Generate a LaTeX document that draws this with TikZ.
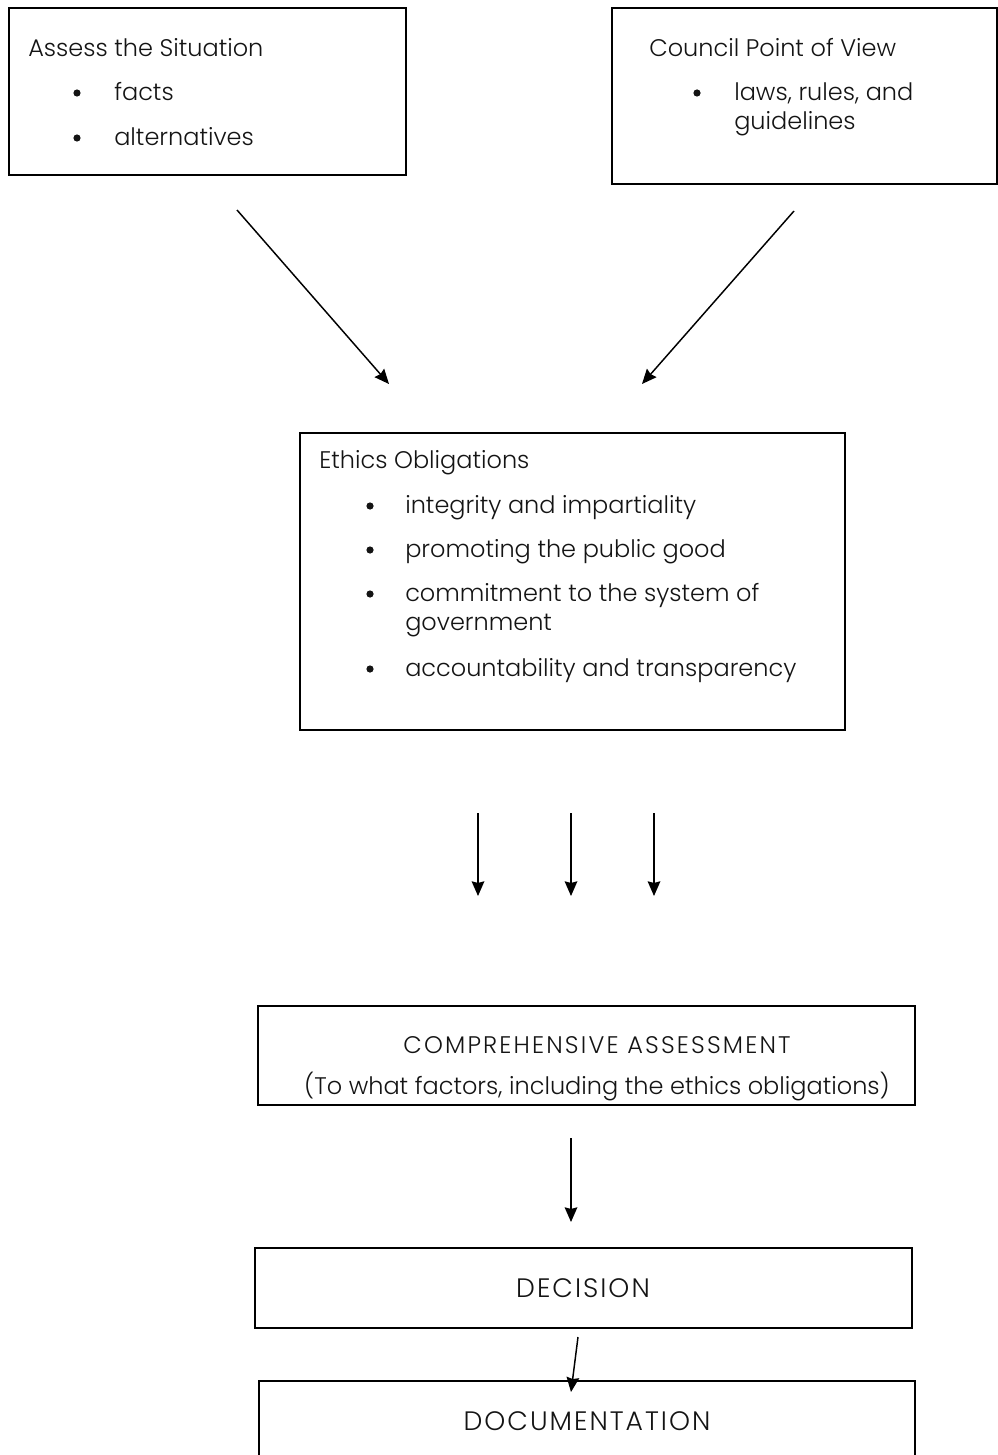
\documentclass[tikz,border=0pt]{standalone}
\usepackage{fontspec}
\setmainfont{Poppins}[UprightFont={* Light}]
\usepackage{tikz}
\usetikzlibrary{arrows.meta,positioning,fit}
\definecolor{ink}   {HTML}{000000}
\definecolor{txtink}{HTML}{141414}
\newcommand{\boxfont}{\fontsize{18}{21}\selectfont}
\newcommand{\capfont}{\fontsize{18}{21}\selectfont\addfontfeatures{LetterSpace=9}}
\newcommand{\bigcapfont}{\fontsize{20}{24}\selectfont\addfontfeatures{LetterSpace=7.5}}
\tikzset{
  framebox/.style  ={draw=ink, line width=1.1pt, inner sep=0pt},
  leftlabel/.style ={anchor=mid west, inner sep=0pt, text=txtink, font=\boxfont},
  midlabel/.style  ={anchor=mid, inner sep=0pt, text=txtink, font=\boxfont},
  dotmark/.style   ={circle, fill=txtink, inner sep=0pt, minimum size=5.4pt},
  flowarr/.style   ={-{Stealth[length=11pt,width=9.5pt,inset=1.2pt]}, line width=1.1pt, draw=ink},
}

\begin{document}
\begin{tikzpicture}[x=0.75pt,y=-0.75pt]
    \clip (0,0) rectangle (998,1455);

    % top left box
    \node[framebox, fit={(9,8) (406,175)}] (assess) {};
    \node[leftlabel] (assesst) at (28,53) {Assess the Situation};
    \node[dotmark] (assessd1) at (77,93) {};
    \node[leftlabel] (assessi1) at (114,97) {facts};
    \node[dotmark] (assessd2) at (77,138) {};
    \node[leftlabel] (assessi2) at (114,142) {alternatives};

    % top right box
    \node[framebox, fit={(612,8) (997,184)}] (council) {};
    \node[leftlabel] (councilt) at (649,53) {Council Point of View};
    \node[dotmark] (councild1) at (697,93) {};
    \node[leftlabel] (councili1) at (734,97) {laws, rules, and};
    \node[leftlabel] (councili2) at (734,126) {guidelines};

    % ethics box
    \node[framebox, fit={(300,433) (845,730)}] (ethics) {};
    \node[leftlabel] (ethicst) at (319,465) {Ethics Obligations};
    \node[dotmark] (ethicsd1) at (370,506) {};
    \node[leftlabel] (ethicsi1) at (405,510) {integrity and impartiality};
    \node[dotmark] (ethicsd2) at (370,550) {};
    \node[leftlabel] (ethicsi2) at (405,554) {promoting the public good};
    \node[dotmark] (ethicsd3) at (370,594) {};
    \node[leftlabel] (ethicsi3) at (405,598) {commitment to the system of};
    \node[leftlabel] (ethicsi3b) at (405,627) {government};
    \node[dotmark] (ethicsd4) at (370,669) {};
    \node[leftlabel] (ethicsi4) at (405,673) {accountability and transparency};

    % lower boxes
    \node[framebox, fit={(258,1006) (915,1105)}] (compre) {};
    \node[midlabel, font=\capfont] (compret) at (597,1050) {COMPREHENSIVE ASSESSMENT};
    \node[midlabel] (comprei) at (597,1091) {(To what factors, including the ethics obligations)};

    \node[framebox, fit={(255,1248) (912,1328)}] (decision) {};
    \node[midlabel, font=\bigcapfont] (decisiont) at (583,1294) {DECISION};

    \node[framebox, fit={(259,1381) (915,1480)}] (docu) {};
    \node[midlabel, font=\bigcapfont] (docut) at (587,1427) {DOCUMENTATION};

    % arrow ends
    \coordinate (l1) at (237,210);  \coordinate (l2) at (389,384);
    \coordinate (r1) at (794,211);  \coordinate (r2) at (642,384);
    \coordinate (v1) at (478,813);  \coordinate (v1e) at (478,896);
    \coordinate (v2) at (571,813);  \coordinate (v2e) at (571,896);
    \coordinate (v3) at (654,813);  \coordinate (v3e) at (654,896);
    \coordinate (c1) at (571,1138); \coordinate (c1e) at (571,1222);
    \coordinate (d1) at (578,1337); \coordinate (d1e) at (571,1392);

    \draw[flowarr] (l1) -- (l2);
    \draw[flowarr] (r1) -- (r2);
    \draw[flowarr] (v1) -- (v1e);
    \draw[flowarr] (v2) -- (v2e);
    \draw[flowarr] (v3) -- (v3e);
    \draw[flowarr] (c1) -- (c1e);
    \draw[flowarr] (d1) -- (d1e);
\end{tikzpicture}
\end{document}
